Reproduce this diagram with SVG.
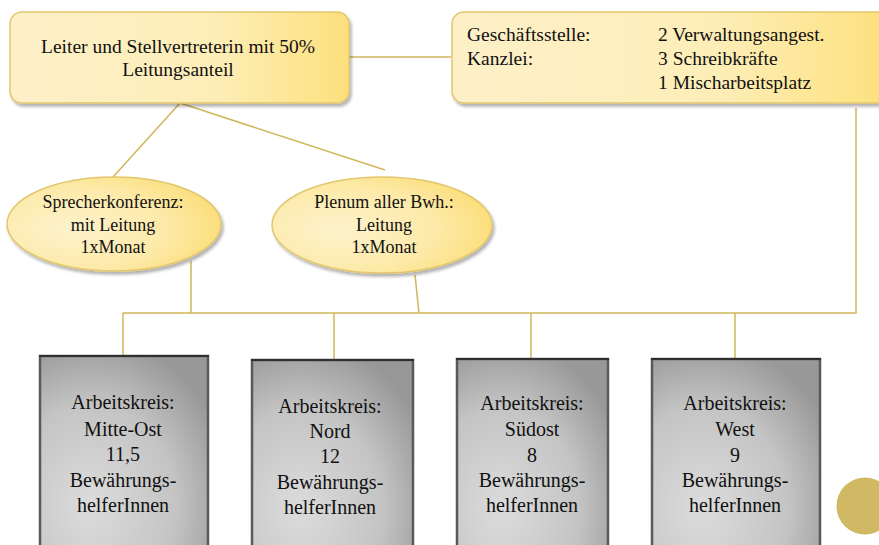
<svg xmlns="http://www.w3.org/2000/svg" width="879" height="545" viewBox="0 0 879 545">
<defs>
<linearGradient id="gold" x1="0" y1="0" x2="1" y2="0">
<stop offset="0" stop-color="#fdf0c8"/>
<stop offset="0.6" stop-color="#fdeeb8"/>
<stop offset="1" stop-color="#fde07c"/>
</linearGradient>
<radialGradient id="goldE" cx="0.3" cy="0.55" r="0.75">
<stop offset="0" stop-color="#fdf2cc"/>
<stop offset="0.6" stop-color="#fdeaa8"/>
<stop offset="1" stop-color="#fbdc74"/>
</radialGradient>
<radialGradient id="grey" cx="0.3" cy="0.75" r="0.85">
<stop offset="0" stop-color="#dcdcdc"/>
<stop offset="0.6" stop-color="#c4c4c4"/>
<stop offset="1" stop-color="#989898"/>
</radialGradient>
<filter id="sh" x="-10%" y="-10%" width="120%" height="130%">
<feDropShadow dx="2" dy="3" stdDeviation="1.5" flood-color="#000" flood-opacity="0.3"/>
</filter>
</defs>
<style>
.t{font-family:"Liberation Serif","Times New Roman",serif;fill:#111;}
.c{stroke:#d1b659;stroke-width:1.5;fill:none;}
.gb{fill:url(#gold);stroke:#e2c66c;stroke-width:1.5;filter:url(#sh);}
.ge{fill:url(#goldE);stroke:#e2c66c;stroke-width:1.5;filter:url(#sh);}
.ak{fill:url(#grey);stroke:#595959;stroke-width:2.5;}
</style>
<g id="connectors">
<line class="c" x1="349" y1="57" x2="451" y2="57"/>
<line class="c" x1="180" y1="103" x2="113" y2="177"/>
<line class="c" x1="180" y1="103" x2="385" y2="170"/>
<line class="c" x1="191" y1="261" x2="191" y2="313"/>
<line class="c" x1="415" y1="275" x2="419" y2="313"/>
<polyline class="c" points="856,108 856,313 123,313"/>
<line class="c" x1="123" y1="313" x2="123" y2="356"/>
<line class="c" x1="334" y1="313" x2="334" y2="360"/>
<line class="c" x1="531" y1="313" x2="531" y2="359"/>
<line class="c" x1="735" y1="313" x2="735" y2="359"/>
</g>
<g id="leitung">
<rect class="gb" x="10" y="12" width="339" height="91" rx="12"/>
<text class="t" font-size="19.5" text-anchor="middle"><tspan x="178" y="53">Leiter und Stellvertreterin mit 50%</tspan><tspan x="178" y="76">Leitungsanteil</tspan></text>
</g>
<g id="geschaeftsstelle">
<rect class="gb" x="452" y="12" width="440" height="91" rx="12"/>
<text class="t" font-size="19.5"><tspan x="467" y="41">Geschäftsstelle:</tspan><tspan x="467" y="65">Kanzlei:</tspan></text>
<text class="t" font-size="19.5"><tspan x="658" y="41">2 Verwaltungsangest.</tspan><tspan x="658" y="65">3 Schreibkräfte</tspan><tspan x="658" y="89">1 Mischarbeitsplatz</tspan></text>
</g>
<g id="sprecherkonferenz">
<ellipse class="ge" cx="114" cy="224" rx="107" ry="47"/>
<text class="t" font-size="18" text-anchor="middle"><tspan x="113" y="208">Sprecherkonferenz:</tspan><tspan x="113" y="231">mit Leitung</tspan><tspan x="113" y="253">1xMonat</tspan></text>
</g>
<g id="plenum">
<ellipse class="ge" cx="382" cy="225" rx="110" ry="48"/>
<text class="t" font-size="18" text-anchor="middle"><tspan x="384" y="208">Plenum aller Bwh.:</tspan><tspan x="384" y="231">Leitung</tspan><tspan x="384" y="253">1xMonat</tspan></text>
</g>
<g id="ak-mitte-ost">
<rect class="ak" x="40" y="356" width="168" height="200"/>
<line x1="39" y1="356" x2="209" y2="356" stroke="#222" stroke-width="1.5"/>
<text class="t" font-size="20" text-anchor="middle"><tspan x="123" y="409">Arbeitskreis:</tspan><tspan x="123" y="436">Mitte-Ost</tspan><tspan x="123" y="461">11,5</tspan><tspan x="123" y="487">Bewährungs-</tspan><tspan x="123" y="512">helferInnen</tspan></text>
</g>
<g id="ak-nord">
<rect class="ak" x="252" y="360" width="161" height="200"/>
<line x1="251" y1="360" x2="414" y2="360" stroke="#222" stroke-width="1.5"/>
<text class="t" font-size="20" text-anchor="middle"><tspan x="330" y="413">Arbeitskreis:</tspan><tspan x="330" y="438">Nord</tspan><tspan x="330" y="463">12</tspan><tspan x="330" y="489">Bewährungs-</tspan><tspan x="330" y="514">helferInnen</tspan></text>
</g>
<g id="ak-suedost">
<rect class="ak" x="457" y="359" width="151" height="200"/>
<line x1="456" y1="359" x2="609" y2="359" stroke="#222" stroke-width="1.5"/>
<text class="t" font-size="20" text-anchor="middle"><tspan x="532" y="410">Arbeitskreis:</tspan><tspan x="532" y="436">Südost</tspan><tspan x="532" y="462">8</tspan><tspan x="532" y="487">Bewährungs-</tspan><tspan x="532" y="512">helferInnen</tspan></text>
</g>
<g id="ak-west">
<rect class="ak" x="652" y="359" width="168" height="200"/>
<line x1="651" y1="359" x2="821" y2="359" stroke="#222" stroke-width="1.5"/>
<text class="t" font-size="20" text-anchor="middle"><tspan x="735" y="410">Arbeitskreis:</tspan><tspan x="735" y="436">West</tspan><tspan x="735" y="462">9</tspan><tspan x="735" y="487">Bewährungs-</tspan><tspan x="735" y="512">helferInnen</tspan></text>
</g>
<circle cx="865" cy="506" r="28.5" fill="#d0b865"/>
</svg>
